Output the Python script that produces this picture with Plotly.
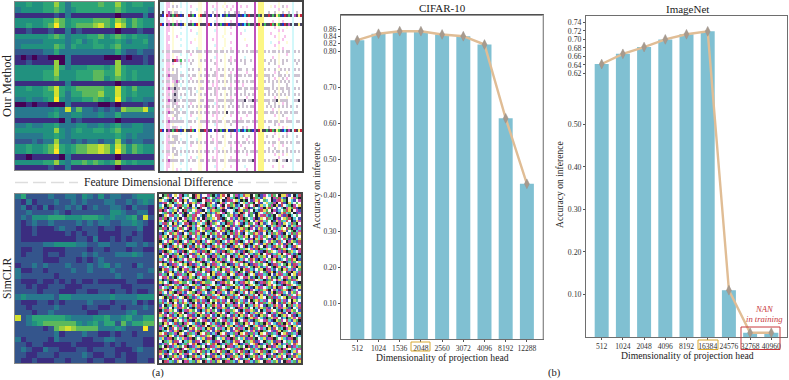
import plotly.graph_objects as go

W, H = 789, 380

# bar charts
cifar_dims = ["512", "1024", "1536", "2048", "2560", "3072", "4096", "8192", "12288"]
cifar_acc = [0.830, 0.848, 0.855, 0.855, 0.846, 0.841, 0.818, 0.613, 0.431]
cifar_ticks = [0.10, 0.20, 0.30, 0.40, 0.50, 0.60, 0.70, 0.80, 0.82, 0.84, 0.86]

imagenet_dims = ["512", "1024", "2048", "4096", "8192", "16384", "24576", "32768", "40960"]
imagenet_acc = [0.642, 0.666, 0.682, 0.700, 0.712, 0.719, 0.110, 0.010, 0.010]
imagenet_ticks = [0.10, 0.20, 0.30, 0.40, 0.50, 0.62, 0.64, 0.66, 0.68, 0.70, 0.72, 0.74]

# left heatmaps, digits 0-9
ours_rows = """
44544 55753 55555 65575 45544
34444 55653 45555 55565 44443
11111 11213 11111 11101 11131
44444 55764 55556 66576 46544
44544 56964 56667 86597 46544
11211 12113 12111 11101 11211
44444 45653 44455 64565 45443
33333 44443 45345 44454 34453
34444 44653 54445 54564 44443
22222 33533 33333 33353 22322
10101 10003 11111 10001 01121
11211 11703 11111 11171 11121
44444 44753 44455 54575 44444
44444 55744 45556 65575 45444
44444 55644 45556 64565 45444
11111 11113 11111 11101 11111
44544 56854 56666 65585 46444
44444 55853 55666 75585 45444
33433 45943 44556 54595 34433
00101 10003 11111 00101 11121
33333 33438 36332 32327 66684
33333 34533 44333 43353 33333
11111 11103 12111 11101 11111
33433 44533 34433 43453 34433
44444 44743 45445 54564 44433
33333 44543 44444 44454 34333
22232 33733 23233 23373 23322
44544 56854 56677 87586 46544
44544 56954 56677 87596 46544
11011 11103 11111 11101 11111
44444 55743 55656 54575 45444
11111 12113 11111 11101 11111
"""

simclr_rows = """
35222 23223 32432 42332 23444
21312 22322 32322 23322 32343
23121 31223 23123 22332 13221
22322 22321 22222 22443 22331
23244 45554 44555 43433 45282
21232 23222 23232 33223 34321
21121 11232 21222 12212 22311
21121 11112 12122 11112 21211
21111 11111 12213 11212 12211
22222 33444 43322 33222 33232
21122 11112 22212 21222 12211
21222 12212 22323 22233 34322
22222 11122 21212 32222 22222
12232 32223 22232 34232 21322
31122 12222 32232 22322 22223
32222 22122 22222 22232 22322
21112 11212 12112 11111 22111
22121 12221 11222 22221 12222
22221 22211 12211 22122 12112
34333 33244 33333 33433 33444
21112 21212 22232 22122 23121
22122 22322 22122 11221 22232
22212 23222 22211 22222 34222
82355 55554 33334 45334 53355
22345 66666 64345 35526 35566
22222 12678 76666 33343 22292
22222 22312 22322 11212 21222
31222 21322 22112 23322 22211
22122 11111 21111 12121 22211
23211 32211 12212 22211 12322
22112 22122 22321 12212 11222
21121 11221 22212 21122 11221
"""

# colour steps for the digits above
heat_colors = ["#440154", "#3b2d80", "#34558c", "#28788e", "#21917f", "#2da577",
               "#5cb95c", "#98d040", "#d2e030", "#fde725"]

# right panels, one letter per cell
sparse_colors = {
    "w": "#ffffff", "c": "#d2f8fa", "C": "#38dce8", "p": "#f8c4ec", "m": "#c050bc",
    "y": "#fcf684", "l": "#fefcd8", "k": "#4a4560", "b": "#2430c8", "r": "#c82840",
    "g": "#44c060", "d": "#cdc4d2",
}
noise_colors = {
    "w": "#f8f8f8", "k": "#20202c", "r": "#c84860", "g": "#58b868", "b": "#4450b8",
    "c": "#58ccd4", "m": "#c048ac", "y": "#e4dc58",
}

ours_cells = """
ccwppwlwww cwwcwwwwwl lwwmwwwwpw wwlwwwwwmw wwwwwwwmwy yywwwwwwwl wwwwwwcwww w
ccwppwdwdw cwwcwpwwwl lwwmwwpwpw wlwpwwpwmw pwwpwwwmwy yywwwlwpwl wdwpwwcwww w
ccwpwwlwww wwwcwwwwcl lwwmwwwcpw wwlwwpwwmw wwwwwwwmwy yywwwwwwwp wwwlwwcwww w
ckwpmdlddw cwwcwdwwwl lwdmwwdwpw wwdwdwwdmd wwdwwwwmwy yywwdwwdwl wdwwdwcwdw w
kbwrmkgkrk bkwcrkgbwy rkkmkbwkmk cbkgbkkkmb kbCkrkkmkg kykkrkgkyg kbrkgkcmky r
ccwpwwlwww wwwcwwwwwl lwwmwwwwpw wwlwwwwwmw wwwwwwwmwy yywwwwwwwl wwwwwwcwww w
ccwppwlwpw cwwcwpwwwl lwwmwwwcpw wwlwwpwwmw wwwpwwwmwy yywwwwpwwl wpwwwwcwww w
rbwkmkgkmk bkyckkgbry kkkmrbwkmk gbkrbkkkmb kbCkgkkmkr ykgkkrgkyg kbrkmkckky k
ccwppwlwww cwwcwwwwwl lwwmwwwwpw wwlwwpwwmw wwwwwwwmwy yywwwwwpwl wwwlwwcwww w
ccwppwlwww wwwcwpwwwl lwwmwwwcpw wwlwwwwwmw wwcwwwwmwy yywwwwwwwp wpwwwwcwww w
ccwpwwlwww cwwcwwwwcl lwwmwwwwpw wwlwwpwwmw pwwwwwwmwy yywwwpwwwl wwwwwwcwww w
ccwppwlwpw wwwcwwwwwl lwwmwwwwpw wlwwwwwwmw wwwwwwwmwy yywwwwwpwl wwpwwwcwww w
ccwppwlwww cwwcwwwlwl lwwmwwpwpw wwlwwwwwmw wwlwwwwmwy yywwwwwwwl wpwwwwcwww w
ccwpwwlwww wwwcwpwwwl lwwmwwwwpw wwlwwpwwmw wwwwwwwmwy yywwwcwwwp wwwlwwcwww w
ccwppwlwww cwwcwwwwwl lwwmwwwcpw wwlwwwwwmw wwwpwwwmwy yywwwwwpwl wwwwwwcwww w
ccwppwlwww wwwcwwwwcl lwwmwwwwpw wlwwwpwwmw wwwwwwwmwy yywwwwwwwl wpwwwwcwww w
cdwddwdddd dwwddwdwdd dwdmddwddw ddwdwddwmd wdwdwddmdy yydwdwddwd wdwddwcdwd w
ccwppwlwww cwwcwpwwwl lwwmwwwwpw wwlwwwwwmw wwwwwwwmwy yywwwwwwwl wwwpwwcwww w
ccwppwlwpw wwwcwwwwwl lwwmwwwcpw wwlwwpwwmw wwcwwwwmwy yywwwwpwwl wwwwwwcwww w
cdwddwkrmd gwdcpwdwwl dwdmwdwwpw dwlwdpwdmw dwdwwdwmwy yydwwdwdwl wdwdwwcdwd w
ccwppwpwww dwwcwdwwwl lwwmwwwdpw wwlwwdwwmw wwdwwwwmwy yywwdwwdwl wdwwwwcwdw w
ccwppwlwww cwwcwwwwwl lwwmwwwwpw wwlwwwwwmw wwwwwwwmwy yywwwwwwwp wwwwwwcwww w
cdwpdwdwdw wwwcdwdwwd lwdmwdwwpd wdlwdwdwmd dwwdwwdmwy yydwdwwdwl dwdwdwcdwd w
ccwppwlwdw cwwcwwwwwl lwwmwwwdpw wwlwwpwwmw wwwpwwwmwy yywwwwwpwd wwwlwwcwww w
cdwdmddddw ddwcdwddwl dwdmdwddpw ddlwddwdmd dwdwddwmdy yydddwdwwd dwdwdwcddd w
ccwppwdddw cwwcwpwwwl lwwmwwwwpw wwlwwdwwmw wwwwwwwmwy yywwdwwpwl wdwpwwcwww w
cdwddwpdmd wdwcdwdwdl ddwmdwdwpd wdldwdwdmd wdwdwddmwy yydwdwdwdl dwdwdwcwdw w
ccwppwlddw cwwcwwwwwl lwwmwwpwpw wwlwwpwwmw wpwwwwwmwy yywwwwdwwl wwwdwwcwww w
cdwdmddkdd wddcddwdwl ddwmddwdpd wddwddwdmd dwddwddmdy yydddwdwdl ddwddwcdwd w
ccwppwpddw wwwcwdwwcl lwwmwwwdpw wwlwwdwwmw wwdwwwwmwy yywwdwwdwl wdwwdwcwww w
cdwpdwdkdw dwdcwdwdwl dwdmwdwdpw dwldwdwdmw dwdwdwdmwy yydwdwdwdl dwdwdwcdwd w
ccwppwdddw cwwcwwwwwl lwwmwwwwpw wwlwwpwwmw wwwpwwwmwy yywwwwwpwl wwwlwwcwww w
cdwdmddkdd wddcddddwl ddwmdddwpd ddlddddwmd ddkwddkmdy yydddwddkl ddddwwcddk w
ccwppwddpw wwwcwpwwwl lwwmwwwcpw wwlwwdwwmw wdwwwwwmwy yywwdwwdwl wpwdwwcwww w
cdwddwdwdd wdwcdwdwdl dwdmdwdwpd wdlwdwdwmd wdwdwddmwy yywdwdwdwd wdwdwdcwdw w
ccwppwlddw cwwcwwwwwl lwwmwwwwpw wwlwwwwwmw wwwwwwwmwy yywwwwpwwl wwwwwwcwww w
cdwdmddwdd wddcwddwdl dwdmdwddpd wdlkwddwmd wddwddwmdy yyddwddwdl dwddwdcddw w
ccwpwwlddw wwwcwpwwwl lwwmwwpwpw wwlwwpwwmw wwwpwwwmwy yywwwwwpwl wdwwwwcwww w
ccwppwpwdw cwwcwwwwcl lwwmwwwwpw wlwwwwwwmw pwwwwwwmwy yywwwwwwwl wwwpwwcwww w
cdwdmddddd ddwcddwdwl dddmdwddpd dwlddwddmd ddwddwdmdy yydwddwddl ddwdddcwdd w
ccwppwlwww wwwcwwwwwl lwwmwwwcpw wwlwwdwwmw wwwwwwwmwy yywwwwwdwp wwwwwwcwww w
ccwppwddpw cwwcwpwwwl lwwmwwwwpw wwlwwwwwmw wdwpwwwmwy yywwdwwwwl wpwlwwcwww w
rbwkmkgkrk bkykkrgbwy kkrmkbwkmk gbkybkkbmC kbCkgkbmkr ykkgkrgkyg kbCkmkcrky r
ccwppwlwww cwwcwwwwwl lwwmwwwwpw wwlwwpwwmw wwwwwwwmwy yywwwwwpwl wwwpwwcwww w
ccwpdwdddw wwwcwdwwwl lwwmwdwwpw wdlwwdwwmw wdwwdwwmwy yywdwwdwwl wdwdwwcwdw w
ccwppwlddw cwwcwwwwcl lwwmwwpwpw wwlwwwwwmw wwwpwwwmwy yywwwwwwwp wwwwwwcwww w
cdwpddddwd wddcwddwdl dwdmwddwpd dwlwddwdmd wddwdwdmwy yydwdwddwl ddwdwdcwdd w
ccwppwlwww wwwcwpwwwl lwwmwwwwpw wwlwwpwwmw pwwwwwwmwy yywwwwpwwl wpwwwwcwww w
ccwppwddww cwwcwwwwwl lwwmwwwcpw wlwwwdwwmw wwdwwwwmwy yywwdwwdwl wwwdwwcwww w
cdwddwdwdw dwdcdwdwdl dwdmdwdwpd wdldwdwdmd wdwdwddmdy yydwdwdwdd wdwdwdcdwd w
ccwppwlddw cwwcwwwwwl lwwmwwwwpw wwlwwwwwmw wwwpwwwmwy yywwwwwpwl wpwlwwcwww w
ccwpwwlwww wwwcwpwwcl lwwmwwpwpw wwlwwpwwmw wwwwwwwmwy yywwwwwwwp wwwwwwcwww w
cdwdmddddw ddwcdwddwl ddwmdwddpw ddlwddddmd wddwddkmwy yydwdwddkl wddkwdcwdd w
ccwppwlwww cwwcwwwwwl lwwmwwwwpw wwlwwwwwmw wwwwwwwmwy yywwwwwwwl wwwwwwcwww w
ccwppwlwww wwwcwwwwwl lwwmwwwcpw wwlwwpwwmw wwcwwwwmwy yywwwwpwwl wpwwwwcwww w
ccwpwwlwpw cwwcwpwwwl lwwmwwwwpw wlwwwwwwmw wwwpwwwmwy yywwwwwwwl wwwwwwcwww w
"""

simclr_cells = """
wkgrbwywmkcgwkrybwwmgkcbyrwkwgmbcryykwgkbmwcrgwkyymbwkcr
kgwymkwbrcwwgkmybrkcwgbmywkrcgkbywmwkrgcbywwkmgrcbkwymgk
ywcbkgrwmkybwcgkkwrmybcgwkbrmwyckgkwbmyrwgcwkbmrygkwcbwm
bmrwgkcywkwbryg mcwkgrwbkymcwgrkbwycmgkwrbwycgmkwrbkycwg
cwkgywbmrgcykwbwmrkgycbwmkwrgybckwmgwrkbycwgmkybrwcgkmwy
gybkmcwrkwgmbyckrwwbgmkcyrwbkgcmwyrkbgwcmkyrgwbwckmygrbk
rkmwcgybwkrcgwymbkwcryggmkbwwckrybgmwkcbrygwkmbcwgrykwmb
wcgrbykwmgkbwcrmywkgbcrywmkgwbcykrwmgbkywcrgmwkbyrcgwkbm
kbywmrcgwbkygmrwckbygwmrkcwgybmkrcwbgwkymrcbgkwymbrkcwgw
mgrkcwbykwmgcrybwkmgcywrbkgwmcbyrkgwcmkbywrgckmbwygrkcwb
ywkbgmcrwgykbmwcrwgkybmcwrkgybwmcrgkwbymrcgwkbymgcrwkbym
cmrgwkybcwrmkgbywcrkmgywbckrgmwybkcrgwmkybcwrgkmbywcrgkw
kwbycrmgwkbyrcmwgkybrwcmgkwybrcmkgwybrcmgwkbycrmgkwbycrm
grmkwbcyrgwmkcbywgrmkbwycrgkmwbcyrgkmwbyrcgkwmbcywrgkmbc
wybgcmkrwybkgcmrwybgckmwrybgkcmwrbygwckmrybgkwcmrybwgkcm
bkcwrgymbkwcrgmybkwcrgymwbkcrgmybkwcgrymbwkcrgymbkwcrgmy
mgykwbrcmgykbwrcmgykwbcrmgykwbrcgmykwbrcmgyw kbrcmgykwbr
rwgbmkycrwgbkmycrwbgmkycwrgbmkyrcwgbmkycrwgbmkycwrgbmkcy
kcwmygbrkcwmgybrkcmwygbrkcwmygrbkcwmybgrkcwmygbrcwkmygbr
ybrgkcwmybrgckwmybgrkcwmybrgkcmwybrgkcwmbyrgkcwmybrgkwcm
wmkcbrygwmkcrbygwmkcbryg wmckbrygwmkcbyrgwkmcbrygwmkcbry
gcywmbkrgcywbmkrgcywmkbrgcwymbkrgcywmbrkgcywmbkrgycwmbkr
brkgywcmbrkgwycmbrgkywcmbrkgywmcbrkgywcmbkrgywcmbrkgycwm
kwmrcbgykwmcrbgykwmrcbygkwmrcbgykmwrcbgykwmrbcgykwmrcbgk
ygbwkmrcygbkwmrcygwbkmrcygbwkmcrygbwkmrcgybwkmrcygbwmkrc
cmwgrykbcmwrgykbcmwgrkybcmgwrykbcmwgrybkcmwgrykbcwmgrykb
rkbcmwgyrkcbmwgyrkbcwmgyrkbcmwygrkbcmwgyrbkcmwgyrkbcmgwy
wgykbrmcwgykrbmcwgkybrmcwgykbrcmwgykbrmcgwykbrmcwgkybrmc
bmcwgkrybmwcgkrybmcwkgrybmcwgkyrbmcwgkrybcmwgkrybmcwgrky
kyrmcbwgkymrcbwgkyrmbcwgkyrmcbgwkyrmcbwgykrmcbwgkyrcmbwg
gwbrykcmgwbyrkcmgwbrkycmgwbrycmkgwbrykcmwgbrykcmgwbrkycm
mcgkwybrmcgkywbrmcgwkybrmcgkwybrmckgwybrmcgkwbyrmcgkwybr
wrmybgkcwrmbygkcwrmygbkcwrmybkgcwrmybgkcrwmybgkcwrmyb gk
ckbgrmwyckbrgmwyckbgmrwyckbgrmwycbkgrmwyckbgrwmyckbgrmyw
ygwckbmryggwckmbryggcwkbmrygwkcbmrygwckbmrgywckbmrygwcbk
bkmrywgcbkmrwygcbkrmywgcbkmrywgcbmkrywgcbkmyrwgcbkmrywcg
mwcgbkyrmwcgkbyrmwgcbkyrmwcgbkyrwmcgbkyrmwcgbykrmwcgbkry
gyrkmwcbgyrmkwcbgyrkmcwbgyrkmwcbygrkmwcbgyrkwmcbgyrkmcwb
rcwbygkmrcbwygkmrcwbgykmrcwbyg kmcrwbygkmrcwbykgmrcwbygm
kbgmcrwykbmgcrwykbgmrcwykbgmcrywkbgmcrwkybgmcrwykbgmcwry
wykgrbmcwykrgbmcwykgbrmcwykgrbcmwykgrbmcywkgrbmcwykgrmbc
cmbwkgyrcmwbkgyrcmbkwgyrcmbwkgryc mbwkgyrcmbwgkyrcmbwkyg
grcymkwbgrycmkwbgrcmykwbgrcymkbwgrcymkwbrgcymkwbgrcykmwb
bwkgcrymbwgkcrymbwkcgrymbwkgcrmybwkgcrymwbkgcrymbwkgrcym
mygbwkcrmygwbkcrmybgwkcrmygbwckrmygbwkcrygmbwkcrmygbkwcr
kcrmygwbkcmrygwbkcrymgwbkcrmgywbkcrmygbwkcrmywgbkcrmygwb
rwbkcmgyrwkbcmgyrwbckmgyrwbkcgmyrwbkcmygrwbkcmgyrbwkcmgy
ygmwrbckygwmrbckygmrwbckygmwbrckygmwrcbkygmwrbckgymwrbkc
cbkgymrwcbgkymrwcbkygmrwcbkgmyrwcbkgyrmwcbkgymrwbckgymwr
wmrcbkygwmcrbkygwmrbckygwmrcbykgwmrcbkgywmrcbkygmwrcbygk
gkymwcrbgkmywcrbgkywmcrbgkymcwrbgkymwrcbgkymwcbrgkymwcrb
brwgkycmbrgwkycmbrwkgycmbrwgyk cmbrwgkcymbrwgkycbmrwgkyc
mckybrwgmckbyrwgmckyrbwgmckybwrgmckybrgwmckybrwgckmybrwg
kgcwmbyrkgwcmbyrkgcmwbyrkgcwbmyrkgcwmybrkgcwmbrykgcwmbyk
ywrbgcmkywbrgcmkywrgbcmkywrbcgmkywrbgmckywrbgcmkwyrbgcmk
rmgkywbcrmkgywbcrmgywkbcrmgkwybcrmgkybwcrmgkywcbrmgkywbc
cybmrkgwcymbrkgwcybrmkgwcybmkrgwcybmrgkwcybmrkgwycbmrkgw
wkgcybrmwkcgybrmwkgyc brmwkgcbyrmwkgcyrbmwkgcybrmkwgcybr
bcmgwryk bcgmwrykbcmwgrykbcmgrwykbcmgwyrkbcmgwrkybcmgwry
gwkrbmcygwrkbmcygwkbrmcygwkrmbcygwkrbcmygwkrbmycgwkrbmcg
kmywgcrbkmwygcrbkmygwcrbkmywcgrbkmywgrcbkmywgcbrkmywgcrm
rgbkcymwrgkbcymwrgbckymwrgbkycmwrgbkcmywrgbkcywmrgbkcymw
ycrmwbgkycmrwbgkycrwmbgkycrmbwgkycrmwgbkycrmwbkgycrmwbgy
mwkbgrycmwbkgrycmwkgbrycmwkbrgycmwkbgyrcmwkbgrcymwkbgryc
bgcykwmrbgycwkmrbgcwykmrbgcykmwrbgcykwrmbgcykwmbrgcykwmr
wkrmcgbywkmrcgbywkrcmgbywkrmgcbywkrmcbgywkrmcgybwkrmcgby
"""


def digit_rows(text):
    return [[int(c) for c in line.replace(" ", "")] for line in text.strip().splitlines()]


def cell_rows(text, names):
    rows = []
    for line in text.strip().splitlines():
        rows.append([names.index(c) for c in line.replace(" ", "")])
    n = max(len(r) for r in rows)
    return [r + [0] * (n - len(r)) for r in rows]


def stepped(colors):
    out = []
    for i, c in enumerate(colors):
        out.append([i / len(colors), c])
        out.append([(i + 1) / len(colors), c])
    return out


def dom_x(a, b):
    return [a / W, b / W]


def dom_y(top, bottom):
    return [1 - bottom / H, 1 - top / H]


fig = go.Figure()

# four image panels: axis suffix, data, palette, pixel box, frame colour
panels = [
    ("", ours_rows, None, (15, 154, 2, 170), "#8a8a8a"),
    ("2", ours_cells, sparse_colors, (160, 302, 2, 171), "#444444"),
    ("3", simclr_rows, None, (15, 154, 194, 363), "#8a8a8a"),
    ("4", simclr_cells, noise_colors, (159, 301, 194, 363), "#444444"),
]
for suffix, data, palette, box, frame in panels:
    if palette is None:
        z = digit_rows(data)
        colors = heat_colors
    else:
        z = cell_rows(data, list(palette))
        colors = list(palette.values())
    fig.add_trace(go.Heatmap(z=z, colorscale=stepped(colors), zmin=-0.5, zmax=len(colors) - 0.5,
                             showscale=False, hoverinfo="skip", xaxis="x" + suffix, yaxis="y" + suffix))
    frame_width = 1 if palette is None else 1.5
    fig.update_layout({
        "xaxis" + suffix: dict(domain=dom_x(box[0], box[1]), anchor="y" + suffix, showticklabels=False,
                               ticks="", showgrid=False, zeroline=False, showline=True, mirror=True,
                               linecolor=frame, linewidth=frame_width, range=[-0.5, len(z[0]) - 0.5]),
        "yaxis" + suffix: dict(domain=dom_y(box[2], box[3]), anchor="x" + suffix, showticklabels=False,
                               ticks="", showgrid=False, zeroline=False, showline=True, mirror=True,
                               linecolor=frame, linewidth=frame_width, range=[len(z) - 0.5, -0.5]),
    })

# bar charts
charts = [
    ("5", cifar_dims, cifar_acc, cifar_ticks, (341, 543, 15, 339), [-0.77, 8.76], 0.9, 7.4),
    ("6", imagenet_dims, imagenet_acc, imagenet_ticks, (586, 787, 16, 337), [-0.74, 8.74], 0.755, 7.8),
]
serif = "Liberation Serif"
for suffix, dims, acc, ticks, box, xrange, ytop, ysize in charts:
    fig.add_trace(go.Bar(x=dims, y=acc, width=0.66, marker=dict(color="#80c0d2", line=dict(width=0)),
                         xaxis="x" + suffix, yaxis="y" + suffix))
    fig.add_trace(go.Scatter(x=dims, y=acc, mode="lines+markers", line=dict(color="#e0bd95", width=2.4),
                             marker=dict(symbol="diamond-tall", size=7, color="#a89a8c",
                                         line=dict(color="#98908a", width=0.5)),
                             xaxis="x" + suffix, yaxis="y" + suffix))
    fig.update_layout({
        "xaxis" + suffix: dict(domain=dom_x(box[0], box[1]), anchor="y" + suffix, type="category",
                               range=xrange, showgrid=False, zeroline=False, showline=True, mirror=True,
                               linecolor="#6e6e6e", linewidth=1, ticks="outside", ticklen=2, tickwidth=0.8,
                               tickcolor="#555555", tickfont=dict(size=7.6, color="#333333", family=serif),
                               tickangle=0, automargin=False),
        "yaxis" + suffix: dict(domain=dom_y(box[2], box[3]), anchor="x" + suffix, range=[0, ytop],
                               tickvals=ticks, ticktext=["%.2f" % t for t in ticks], showgrid=False,
                               zeroline=False, showline=True, mirror=True, linecolor="#6e6e6e", linewidth=1,
                               ticks="outside", ticklen=2, tickwidth=0.8, tickcolor="#555555",
                               tickfont=dict(size=ysize, color="#333333", family=serif), automargin=False),
    })


def px_line(x0, x1, y0, y1, color, width, dash="solid"):
    fig.add_shape(type="line", xref="paper", yref="paper", x0=x0 / W, x1=x1 / W, y0=1 - y0 / H, y1=1 - y1 / H,
                  line=dict(color=color, width=width, dash=dash))


def px_rect(x0, x1, y0, y1, color, width):
    fig.add_shape(type="rect", xref="paper", yref="paper", x0=x0 / W, x1=x1 / W, y0=1 - y0 / H, y1=1 - y1 / H,
                  line=dict(color=color, width=width))


def px_text(x, y, text, size, color="#222222", angle=0):
    fig.add_annotation(xref="paper", yref="paper", x=x / W, y=1 - y / H, text=text, showarrow=False,
                       xanchor="center", yanchor="middle", textangle=angle,
                       font=dict(size=size, color=color, family=serif))


# darker top edge on CIFAR-10, lighter right edge
px_line(341, 543, 15, 15, "#333333", 1)
px_line(543, 543, 15, 339, "#b0b0b0", 1)

# highlight boxes around tick labels
px_rect(411, 430, 342, 351, "#d9a830", 1)
px_rect(698, 718, 340, 349.5, "#d9a830", 1)
px_rect(741, 780, 327, 349.5, "#c8383c", 1)

# dashed rule either side of the middle label
px_line(15, 78, 182.5, 182.5, "#dddddd", 1.5, "13px,5px")
px_line(238, 297, 182.5, 182.5, "#dddddd", 1.5, "13px,5px")

px_text(158, 182.5, "Feature Dimensional Difference", 11.6)
px_text(7, 86, "Our Method", 12.6, angle=-90)
px_text(7, 278, "SimCLR", 11.6, angle=-90)
px_text(158, 373, "(a)", 10.6)
px_text(554, 373, "(b)", 10.6)
px_text(442, 7.5, "CIFAR-10", 11)
px_text(687, 8.5, "ImageNet", 11)
px_text(316, 186, "Accuracy on inference", 9.6, angle=-90)
px_text(559, 185, "Accuracy on inference", 9.6, angle=-90)
px_text(442, 357.5, "Dimensionality of projection head", 9.7)
px_text(687, 355.5, "Dimensionality of projection head", 9.7)
px_text(764, 309, "<i>NAN</i>", 8.6, color="#c8383c")
px_text(764, 319, "<i>in training</i>", 8.6, color="#c8383c")

fig.update_layout(
    template="none",
    width=W,
    height=H,
    margin=dict(l=0, r=0, t=0, b=0),
    paper_bgcolor="white",
    plot_bgcolor="white",
    showlegend=False,
)

fig.write_html("out.html", config=dict(displayModeBar=False),
               post_script="document.body.style.margin='0';document.body.style.overflow='hidden';")
